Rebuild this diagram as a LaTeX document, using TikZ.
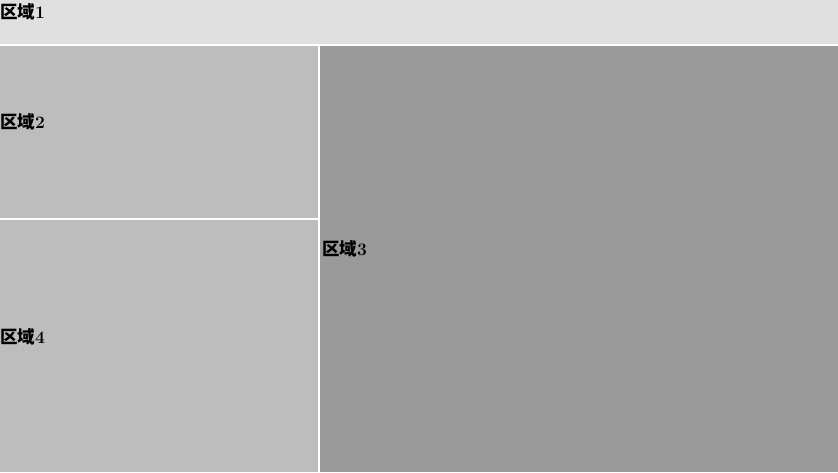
\documentclass[tikz,border=0pt]{standalone}
\usepackage{fontspec}
\newfontfamily\cjk{Noto Sans CJK SC}
\usepackage{tikz}
\usetikzlibrary{positioning}
\definecolor{zonelight}{HTML}{E0E0E0}
\definecolor{zonemid}{HTML}{BDBDBD}
\definecolor{zonedark}{HTML}{9A9A9A}
\tikzset{
  zone/.style={rectangle,inner sep=0pt,outer sep=0pt,anchor=north west},
  zonelabel/.style={anchor=base west,inner sep=0pt,font=\fontsize{17.5}{21}\selectfont\bfseries}
}

\begin{document}
\begin{tikzpicture}[x=1pt,y=1pt]
\fill[white] (0,0) rectangle (838,-472);
\useasboundingbox (0,0) rectangle (838,-472);
\node (r1) [zone,fill=zonelight,minimum width=838pt,minimum height=43.5pt] at (0,0) {};
\node (r2) [zone,fill=zonemid,minimum width=317.5pt,minimum height=172.5pt] at (0,-45.5) {};
\node (r4) [zone,fill=zonemid,minimum width=317.5pt,minimum height=252pt] at (0,-220) {};
\node (r3) [zone,fill=zonedark,minimum width=518.5pt,minimum height=426.5pt] at (319.5,-45.5) {};
% labels
\node (l1) [zonelabel] at ([yshift=3pt]r1.west) {{\cjk\bfseries 区域}1};
\node (l2) [zonelabel] at ([yshift=3pt]r2.west) {{\cjk\bfseries 区域}2};
\node (l3) [zonelabel] at ([xshift=2.5pt,yshift=3pt]r3.west) {{\cjk\bfseries 区域}3};
\node (l4) [zonelabel] at ([yshift=3pt]r4.west) {{\cjk\bfseries 区域}4};
\end{tikzpicture}
\end{document}
